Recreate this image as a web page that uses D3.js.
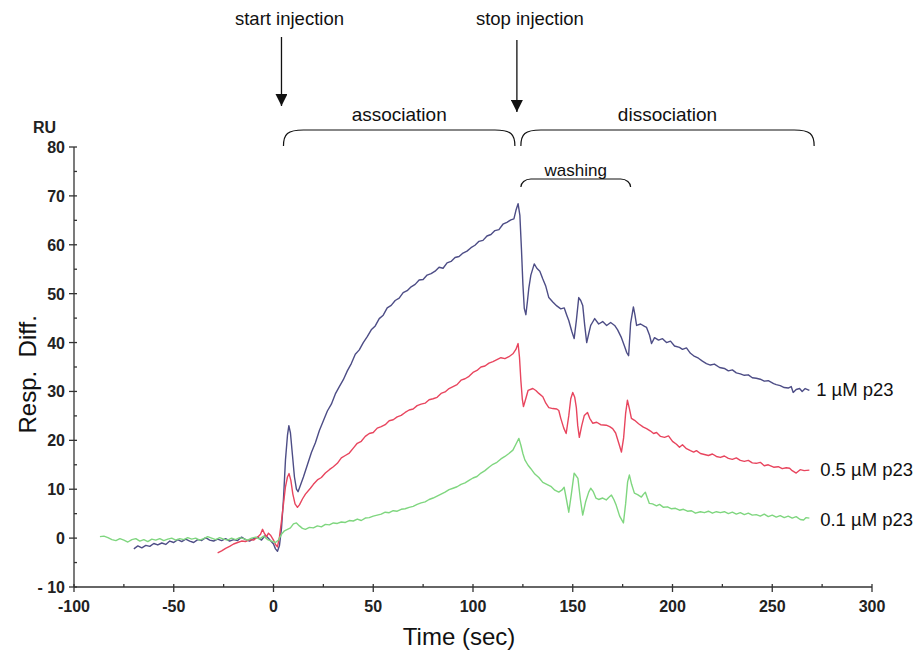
<!DOCTYPE html>
<html>
<head>
<meta charset="utf-8">
<script src="https://cdn.jsdelivr.net/npm/d3@7.9.0/dist/d3.min.js"></script>
<style>
  body { margin: 0; background: #fff; }
  svg { display: block; font-family: "Liberation Sans", Arial, sans-serif; }
  .tick-lbl { font-family: "Liberation Sans Narrow", "Liberation Sans", Arial, sans-serif; font-weight: bold; font-size: 16px; fill: #222; }
</style>
</head>
<body>
<svg id="chart" width="921" height="650"></svg>
<script>
// sensorgram traces, [time (s), response (RU)]
const trace1uM = [
  [-70,-2.2],[-68,-1.6],[-66,-2.0],[-64,-1.5],[-62,-1.7],[-60,-1.1],[-58,-1.4],[-56,-1.0],[-54,-1.3],[-52,-0.6],
  [-50,-0.9],[-48,-0.3],[-46,-0.7],[-44,-0.2],[-42,-0.6],[-40,-0.9],[-38,-0.3],[-36,-0.5],[-34,0.1],[-32,-0.4],
  [-30,-0.6],[-28,-0.2],[-26,-0.5],[-24,-0.1],[-22,-0.6],[-20,-0.3],[-18,-0.5],[-16,0.2],[-14,-0.3],[-12,-0.6],
  [-10,-0.1],[-8,0.2],[-6,-0.4],[-4,0.6],[-2,-0.3],[0,-1.2],[1,-2.2],[2,-2.7],[3,-1.5],[4,2],[5,8],[6,16],[7,21],
  [7.7,23],[8.5,21.5],[9.5,17],[10.5,12.5],[11.5,10],[12.3,9.5],[13.5,10.8],[15,12.5],[17,15],[19,17.5],[21,19.5],
  [23,22],[25,24],[27,26],[29,27.4],[31,29.5],[33,31],[35,32.4],[37,34.2],[39,35.7],[41,37.6],[43,38.5],[45,40],
  [47,41.2],[49,42.6],[51,43.4],[53,44.9],[55,45.6],[57,47.1],[59,47.6],[61,48.6],[63,49.1],[65,50.2],[67,50.6],
  [69,51.4],[71,51.9],[73,52.8],[75,52.9],[77,53.8],[79,54.1],[81,54.6],[83,55.4],[85,55.2],[87,56.3],[89,56.6],
  [91,57.4],[93,57.6],[95,58.3],[97,58.7],[99,59.4],[101,59.9],[103,60.7],[105,60.9],[107,61.8],[109,62.1],
  [111,62.9],[113,63.1],[115,64.2],[117,64.6],[119,65.1],[120.5,65.3],[121.5,67],[122.6,68.4],[123.5,66],
  [124.3,59],[125,52],[125.7,47],[126.5,45.7],[127.3,48.5],[128,51.2],[129,53.8],[130.7,56.1],[132,55.2],
  [133.5,54.6],[135,53],[136.5,51.5],[138,49.2],[140,48.3],[142,47.5],[144,46.9],[145.7,47.1],[147,45.6],
  [148,44.5],[149.5,42.3],[150.7,40.8],[151.8,44.5],[153,49.2],[154,48.6],[155,47.6],[156,43.5],[157,40],
  [158,41.8],[159,43.5],[160,44.2],[161,44.9],[163,43.8],[165,44.3],[167,43.5],[169,44.1],[171,43.5],[172.5,42.6],
  [174.4,41],[176,39.2],[177,38],[178,37.3],[179,43.9],[180.4,47.3],[181.2,45.6],[182,43.5],[184,43.8],[186,43.3],
  [187,43.1],[188.5,41.5],[189.5,39.8],[191,41],[193,40.5],[195,40.8],[197,40],[199,40.3],[201,39.3],[203.5,39],
  [205,38.6],[207,38.9],[209,37.8],[210.6,37.3],[213,36.8],[215,36.2],[217,35.7],[219,35.4],[221,35.6],
  [223.6,34.9],[226,34.7],[228,34.2],[230,34.4],[232,33.8],[234,33.6],[236,33.3],[238,33.4],[240,32.8],
  [242,32.7],[244,32.5],[246,32.1],[248,32.2],[250.7,31.6],[252,31.4],[254,31.2],[256,30.8],[258,30.7],
  [259.5,31],[260.5,29.8],[262,30.4],[263.7,30.6],[265,30],[266.5,30.6],[268.6,30.2]
];

const trace05uM = [
  [-28,-3],[-26,-2.6],[-24,-2.1],[-22,-1.7],[-20,-1.2],[-18,-0.9],[-16,-0.6],[-14,-0.7],[-12,-0.3],[-10,-0.4],
  [-8,0.2],[-6.5,0.8],[-5.5,1.8],[-4.5,0.9],[-3.5,0.3],[-2.5,1.0],[-1.5,0.6],[0,-0.4],[1,-1.3],[2,-1.8],[3,0.3],
  [4,3.5],[5,7],[6,10.5],[7,12.5],[7.8,13.2],[8.7,11.8],[9.7,9],[10.8,7],[12,6.3],[13,6.8],[14.5,8],[16,9],
  [18.5,10.2],[20,11],[22,11.9],[24,12.4],[26,13.3],[28,14],[30,14.6],[32,15.3],[34,16.4],[36,16.9],[38,17.4],
  [40,18.4],[42,19.4],[44,19.8],[46,20.8],[48,21.4],[50,21.6],[52,22.5],[54,22.8],[56,23.2],[58,24],[60,24.2],
  [62,24.8],[64,25.1],[66,25.7],[68,26.2],[70,26.4],[72,27.1],[74,27.4],[76,27.6],[78,28.3],[80,28.5],[82,28.8],
  [84,29.6],[86,29.9],[88,30.6],[90,31],[92,31.4],[94,32.3],[96,32.6],[98,33.1],[100,33.9],[102,34.3],[104,35],
  [106,35.2],[108,35.8],[110,36.1],[112,36.5],[114,36.9],[116,36.7],[118,37.1],[120,37.7],[121.5,38.6],
  [122.6,39.8],[123.3,37],[124,32.2],[124.7,28.5],[125.3,26.9],[126.3,28.3],[127.6,30.2],[130,30.6],
  [131.5,30.2],[133,29.6],[135,28.9],[136.5,27.6],[138,26.7],[140,26.5],[142,26.4],[143,26.1],[144,24.5],
  [145.5,22.5],[146.7,21.4],[148,25],[149,28.5],[150,29.8],[151,28.8],[151.8,26.7],[152.5,23],[153.3,20.6],
  [154.5,23],[155.8,25.1],[157.4,25.7],[158.5,24.5],[160,23.5],[162,23.7],[164,23.2],[166.8,23.1],[168.5,22.8],
  [170,22.4],[171.5,21.5],[173,19.5],[174.4,17.6],[175.5,20.5],[176.5,25.5],[177.4,28.2],[178.4,26.5],
  [179.4,24.5],[181,24.1],[183,23.4],[185.4,22.7],[187,22.4],[189,21.9],[190.5,21.4],[192,21.6],[194,20.8],
  [196,20.6],[198,20.9],[200,19.8],[202,19.2],[203.5,18.6],[205,19.1],[207,18.3],[209,17.9],[210.6,17.6],
  [212,17.9],[214,17.3],[216,17.1],[218,16.9],[220,17.2],[222,16.7],[224,16.5],[226,16.8],[228,16.3],[230,16.1],
  [232,16.4],[234,15.9],[236,15.7],[238,15.9],[240,15.4],[242,15.3],[244,15.5],[246,14.8],[248,15],[250.7,14.5],
  [253,14.6],[255,14.2],[257,14.4],[258.7,14.3],[260,13.8],[262,13.3],[264,14],[266,13.8],[268.6,13.9]
];

const trace01uM = [
  [-87,0.3],[-85,0.4],[-83,0.1],[-81,-0.3],[-79,-0.5],[-77,-0.1],[-75,-0.4],[-73,-0.8],[-71,-0.3],[-69,-0.1],
  [-67,-0.6],[-65,-0.3],[-63,-0.7],[-61,-0.2],[-59,-0.4],[-57,-0.1],[-55,-0.5],[-53,-0.2],[-51,0],[-49,-0.4],
  [-47,-0.1],[-45,-0.3],[-43,0.1],[-41,-0.2],[-39,0],[-37,-0.4],[-35,-0.1],[-33,0.3],[-31,0],[-29,-0.3],
  [-27,0.1],[-25,-0.2],[-23,-0.4],[-21,0],[-19,-0.3],[-17,0.1],[-15,-0.1],[-13,-0.4],[-11,0],[-9,0.2],[-7,-0.2],
  [-5,0.4],[-3,-0.3],[-1,-0.6],[1,-0.9],[2.5,-0.4],[4,0.8],[5.5,1.5],[7,1.8],[8.5,2.1],[10,2.9],[11.5,3.1],
  [13,2.5],[14.5,2],[16,1.8],[18,2.2],[20,2.1],[22,2.5],[24,2.3],[26,2.8],[28,2.7],[30,3.1],[32,3],[34,3.3],
  [36,3.2],[38,3.6],[40,3.5],[42,3.9],[44,3.6],[46,4.1],[48,4.2],[50,4.5],[52,4.7],[54,4.9],[56,5.3],[58,5.2],
  [60,5.6],[62,5.5],[64,5.9],[66,6],[68,6.3],[70,6.5],[72,6.9],[74,7.2],[76,7.4],[78,7.9],[80,8.2],[82,8.6],
  [84,9],[86,9.4],[88,9.9],[90,10.2],[92,10.5],[94,11],[96,11.3],[98,11.8],[100,12.3],[102,12.6],[104,13.3],
  [106,13.8],[108,14.5],[110,15.1],[112,15.5],[114,16.2],[116,16.7],[118,17.3],[120,18],[121.5,19.2],[123,20.4],
  [124,19],[125,17.3],[126,16],[127.6,14.9],[129,14.2],[131,13.1],[133,12.4],[135,11.4],[137,11],[139,10.6],
  [141,9.8],[143,9.4],[144.5,9.8],[145.7,10.4],[146.8,8],[148,5.3],[149.3,9],[150.7,13.3],[151.6,12.8],
  [152.6,12.2],[153.8,8],[155,4.7],[156.5,7.5],[158,9.4],[159,10.2],[160.3,9.5],[161.6,8.2],[163,7.9],[165,8.2],
  [166.8,7.8],[168,8.3],[169.4,8.8],[170.6,7.9],[171.8,6.7],[173.5,4.5],[175.4,3.1],[176.5,7],[177.5,11.5],
  [178.4,12.9],[179.5,11],[180.9,9.2],[182.5,8.9],[184.4,8.4],[185.5,9],[186.4,9.4],[187.4,8.2],[188.4,7.1],
  [190,7],[192,6.6],[193.5,6.9],[195.5,6.3],[197.5,6.4],[199.5,6],[201.5,6.1],[203.5,5.7],[205.5,5.9],
  [207.5,5.5],[209.5,5.6],[211.5,5.1],[214,5.4],[216,5.2],[218,5.5],[220,5.1],[222,5.4],[224,5.2],[226,5.4],
  [228,5],[230,5.3],[232,4.9],[234,5.2],[236,4.8],[238,5.1],[240,4.7],[242,4.8],[244,4.5],[246,4.9],[248,4.4],
  [250,4.7],[252,4.3],[254,4.6],[256,4.2],[258,4.5],[260,4.1],[262,4.4],[264,3.8],[265.7,3.7],[267,4.2],[268.6,4.1]
];

const seriesNames = ['1 \u00b5M p23', '0.5 \u00b5M p23', '0.1 \u00b5M p23'];
const seriesColors = ['#4d4d86', '#e8455e', '#7fd67f'];
// where each series label sits (time, response)
const labelAnchors = [[272, 30.6], [273, 14.1], [273, 4.0]];

const xTicks = [-100, -50, 0, 50, 100, 150, 200, 250, 300];
const yTicks = [-10, 0, 10, 20, 30, 40, 50, 60, 70, 80];

// phases: [label, t start, t end]
const injectionMarks = [['start injection', 4], ['stop injection', 122]];
const phaseBraces = [['association', 5, 121], ['dissociation', 124, 271]];
const washBrace = ['washing', 124, 179];

const svg = d3.select('#chart');
const x = d3.scaleLinear().domain([-100, 300]).range([74, 872]);
const y = d3.scaleLinear().domain([-10, 80]).range([587, 147]);

// axes
const axisG = svg.append('g').attr('stroke', '#333').attr('stroke-width', 1.3);
axisG.append('line').attr('x1', x(-100)).attr('x2', x(-100)).attr('y1', y(80)).attr('y2', y(-10));
axisG.append('line').attr('x1', x(-100)).attr('x2', x(300)).attr('y1', y(-10)).attr('y2', y(-10));

d3.range(-10, 81, 5).forEach(v => {
  const major = v % 10 === 0;
  axisG.append('line')
    .attr('x1', x(-100) - (major ? 5 : 0)).attr('x2', x(-100) + 3)
    .attr('y1', y(v)).attr('y2', y(v));
});
d3.range(-100, 301, 25).forEach(t => {
  const major = t % 50 === 0;
  axisG.append('line')
    .attr('x1', x(t)).attr('x2', x(t))
    .attr('y1', y(-10) - 3).attr('y2', y(-10) + (major ? 5 : 0));
});

svg.append('g').selectAll('text').data(yTicks).join('text')
  .attr('class', 'tick-lbl')
  .attr('x', x(-100) - 9).attr('y', d => y(d) + 6)
  .attr('text-anchor', 'end')
  .text(d => d === -10 ? '- 10' : d);

svg.append('g').selectAll('text').data(xTicks).join('text')
  .attr('class', 'tick-lbl')
  .attr('x', d => x(d)).attr('y', y(-10) + 25)
  .attr('text-anchor', 'middle')
  .text(d => d);

svg.append('text').attr('class', 'tick-lbl')
  .attr('x', 33).attr('y', 133).text('RU');

svg.append('text')
  .attr('transform', `translate(36,${y(33.5)}) rotate(-90)`)
  .attr('text-anchor', 'middle')
  .attr('font-size', 24).attr('fill', '#111')
  .attr('xml:space', 'preserve')
  .text('Resp.  Diff.');

svg.append('text')
  .attr('x', x(93)).attr('y', 645)
  .attr('text-anchor', 'middle')
  .attr('font-size', 24).attr('fill', '#111')
  .text('Time (sec)');

// traces
const line = d3.line().x(d => x(d[0])).y(d => y(d[1]));
[trace1uM, trace05uM, trace01uM].forEach((tr, i) => {
  svg.append('path')
    .datum(tr)
    .attr('d', line)
    .attr('fill', 'none')
    .attr('stroke', seriesColors[i])
    .attr('stroke-width', 1.4)
    .attr('stroke-linejoin', 'round');
});

svg.append('g').selectAll('text').data(seriesNames).join('text')
  .attr('x', (d, i) => x(labelAnchors[i][0]) + (i === 0 ? 0 : 2))
  .attr('y', (d, i) => y(labelAnchors[i][1]) + 7)
  .attr('font-size', 18.5).attr('fill', '#111')
  .text(d => d);

// annotations
svg.append('defs').append('marker')
  .attr('id', 'head').attr('viewBox', '0 0 10 10')
  .attr('refX', 10).attr('refY', 5)
  .attr('markerWidth', 12).attr('markerHeight', 12)
  .attr('markerUnits', 'userSpaceOnUse')
  .attr('orient', 'auto')
  .append('path').attr('d', 'M0,0 L10,5 L0,10 Z').attr('fill', '#111');

injectionMarks.forEach(([lbl, t], i) => {
  svg.append('text')
    .attr('x', x(t) + (i === 0 ? 8 : 13)).attr('y', 25)
    .attr('text-anchor', 'middle')
    .attr('font-size', 18.5).attr('fill', '#111')
    .text(lbl);
  svg.append('line')
    .attr('x1', x(t)).attr('x2', x(t))
    .attr('y1', i === 0 ? 37 : 40).attr('y2', i === 0 ? 106 : 112)
    .attr('stroke', '#111').attr('stroke-width', 1.3)
    .attr('marker-end', 'url(#head)');
});

function brace(x1, x2, top, drop, r) {
  return `M${x1},${top + drop} C${x1},${top + 4} ${x1 + 4},${top} ${x1 + r},${top}` +
         ` L${x2 - r},${top} C${x2 - 4},${top} ${x2},${top + 4} ${x2},${top + drop}`;
}

phaseBraces.forEach(([lbl, t1, t2]) => {
  svg.append('path')
    .attr('d', brace(x(t1), x(t2), 130, 16, 20))
    .attr('fill', 'none').attr('stroke', '#111').attr('stroke-width', 1.2);
  svg.append('text')
    .attr('x', (x(t1) + x(t2)) / 2).attr('y', 121)
    .attr('text-anchor', 'middle')
    .attr('font-size', 19).attr('fill', '#111')
    .text(lbl);
});

svg.append('path')
  .attr('d', brace(x(washBrace[1]), x(washBrace[2]), 179, 8, 10))
  .attr('fill', 'none').attr('stroke', '#111').attr('stroke-width', 1.2);
svg.append('text')
  .attr('x', (x(washBrace[1]) + x(washBrace[2])) / 2).attr('y', 176)
  .attr('text-anchor', 'middle')
  .attr('font-size', 17).attr('fill', '#111')
  .text(washBrace[0]);
</script>
</body>
</html>
